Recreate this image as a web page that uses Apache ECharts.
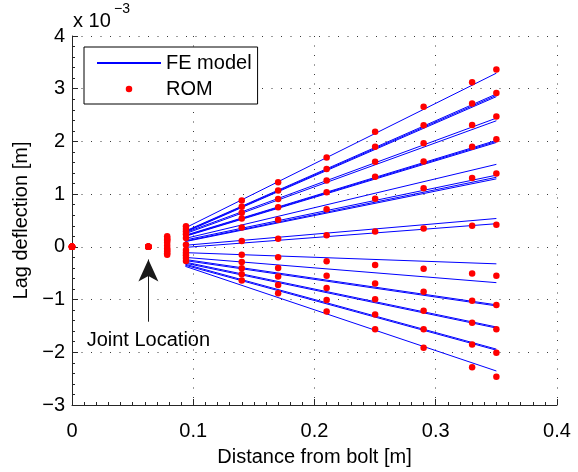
<!DOCTYPE html>
<html>
<head>
<meta charset="utf-8">
<script src="https://cdn.jsdelivr.net/npm/echarts@6/dist/echarts.min.js"></script>
<style>
  html, body { margin: 0; padding: 0; background: #fff; }
  #chart { width: 578px; height: 472px; }
</style>
</head>
<body>
<div id="chart"></div>
<script>
// Lag deflection along the lag (values in units of 1e-3 m)
const FONT = '"Liberation Sans", Arial, Helvetica, sans-serif';

// Reduced-order model: stations along the lag [m]
const romX = [0, 0.063, 0.0785, 0.094, 0.14, 0.17, 0.21, 0.25, 0.29, 0.33, 0.35];
const rom1  = [0, 0, 0.20, 0.39, 0.879, 1.227, 1.696, 2.182, 2.659, 3.122, 3.363];
const rom2  = [0, 0, 0.17, 0.34, 0.760, 1.070, 1.478, 1.898, 2.306, 2.720, 2.918];
const rom3  = [0, 0, 0.14, 0.29, 0.649, 0.908, 1.261, 1.613, 1.965, 2.312, 2.473];
const rom4  = [0, 0, 0.12, 0.24, 0.538, 0.749, 1.038, 1.329, 1.620, 1.898, 2.039];
const rom5  = [0, 0, 0.08, 0.17, 0.365, 0.514, 0.712, 0.912, 1.112, 1.305, 1.390];
const rom6  = [0, 0, 0.02, 0.04, 0.111, 0.156, 0.222, 0.291, 0.347, 0.402, 0.421];
const rom7  = [0, 0, -0.03, -0.06, -0.148, -0.197, -0.271, -0.345, -0.413, -0.506, -0.549];
const rom8  = [0, 0, -0.06, -0.11, -0.289, -0.400, -0.549, -0.697, -0.853, -1.020, -1.105];
const rom9  = [0, 0, -0.09, -0.16, -0.408, -0.562, -0.779, -0.992, -1.211, -1.439, -1.563];
const rom10 = [0, 0, -0.12, -0.21, -0.519, -0.723, -1.007, -1.281, -1.563, -1.854, -2.008];
const rom11 = [0, 0, -0.15, -0.27, -0.636, -0.882, -1.224, -1.563, -1.915, -2.286, -2.466];
const romCases = [rom1, rom2, rom3, rom4, rom5, rom6, rom7, rom8, rom9, rom10, rom11];

// FE model: each case is a straight segment between two stations
const feX = [0.0935, 0.35];
const feStart = [0.36, 0.30, 0.29, 0.28, 0.27, 0.25, 0.22, 0.21, 0.20, 0.16, 0.13, 0.11, 0.10,
                 0.03, -0.01, -0.11, -0.20, -0.24, -0.26, -0.29, -0.31, -0.33, -0.35, -0.37];
const feEnd = [3.295, 2.90, 2.874, 2.85, 2.442, 2.392, 2.02, 2.00, 1.98, 1.565, 1.36, 1.32, 1.29,
               0.538, 0.439, -0.322, -0.679, -1.10, -1.12, -1.52, -1.54, -1.94, -1.96, -2.355];

// Joint location callout
const jointX = 0.063;
const arrowTail = -1.42;
const arrowHead = -0.24;

// Axis tick values
const xTicks = { min: 0, max: 0.4, step: 0.1 };
const yTicks = { min: -3, max: 4, step: 1 };

const AXIS_COLOR = '#262626';
const GRID_DOT = { color: '#3a3a3a', width: 1, type: [1, 8.5] };

const chart = echarts.init(document.getElementById('chart'), null, { renderer: 'canvas' });

const series = [];
feStart.forEach((y0, i) => {
  series.push({
    type: 'line',
    name: 'FE model',
    data: [[feX[0], y0], [feX[1], feEnd[i]]],
    symbol: 'none',
    showSymbol: false,
    lineStyle: { color: '#0000ff', width: 1 },
    itemStyle: { color: '#0000ff' },
    silent: true,
    z: 3
  });
});
romCases.forEach(vals => {
  series.push({
    type: 'scatter',
    name: 'ROM',
    data: romX.map((x, k) => [x, vals[k]]),
    symbol: 'circle',
    symbolSize: 6.5,
    itemStyle: { color: '#ff0000', opacity: 1 },
    clip: false,
    silent: true,
    z: 4
  });
});
series.push({
  type: 'line',
  name: 'callout',
  data: [],
  silent: true,
  markLine: {
    silent: true,
    animation: false,
    symbol: ['none', 'arrow'],
    symbolSize: [15, 22],
    lineStyle: { color: '#1a1a1a', width: 1, type: 'solid' },
    label: {
      show: true,
      position: 'start',
      formatter: 'Joint Location',
      fontFamily: FONT,
      fontSize: 20,
      color: '#000',
      distance: 9
    },
    data: [[{ coord: [jointX, arrowTail] }, { coord: [jointX, arrowHead] }]]
  }
});

const fmtX = v => (v === 0 ? '0' : v.toFixed(1));
const fmtY = v => (v < 0 ? '\u2212' + Math.abs(v) : String(v));

chart.setOption({
  animation: false,
  backgroundColor: '#fff',
  textStyle: { fontFamily: FONT },
  grid: { left: 72, right: 21, top: 36, bottom: 59, containLabel: false },
  legend: {
    data: [
      { name: 'FE model', itemStyle: { opacity: 0 } },
      { name: 'ROM' }
    ],
    orient: 'vertical',
    left: 84,
    top: 47,
    itemWidth: 64,
    itemHeight: 6.5,
    itemGap: 6,
    padding: [6, 6, 5, 12],
    borderColor: '#000',
    borderWidth: 1,
    backgroundColor: '#fff',
    selectedMode: false,
    textStyle: { fontFamily: FONT, fontSize: 20, color: '#000' }
  },
  xAxis: {
    type: 'value',
    min: xTicks.min,
    max: xTicks.max,
    interval: xTicks.step,
    name: 'Distance from bolt [m]',
    nameLocation: 'middle',
    nameGap: 42,
    nameTextStyle: { fontFamily: FONT, fontSize: 20, color: '#000' },
    axisLine: { show: true, onZero: false, lineStyle: { color: AXIS_COLOR, width: 1 } },
    axisTick: { show: true, inside: true, length: 6, lineStyle: { color: AXIS_COLOR } },
    minorTick: { show: true, splitNumber: 10, length: 3, lineStyle: { color: AXIS_COLOR } },
    splitLine: { show: true, lineStyle: GRID_DOT },
    axisLabel: { formatter: fmtX, fontFamily: FONT, fontSize: 20, color: '#000', margin: 16 }
  },
  yAxis: {
    type: 'value',
    min: yTicks.min,
    max: yTicks.max,
    interval: yTicks.step,
    name: 'Lag deflection [m]',
    nameLocation: 'middle',
    nameRotate: 90,
    nameGap: 31,
    nameTextStyle: { fontFamily: FONT, fontSize: 20, color: '#000' },
    axisLine: { show: true, onZero: false, lineStyle: { color: AXIS_COLOR, width: 1 } },
    axisTick: { show: true, inside: true, length: 6, lineStyle: { color: AXIS_COLOR } },
    minorTick: { show: true, splitNumber: 5, length: 3, lineStyle: { color: AXIS_COLOR } },
    splitLine: { show: true, lineStyle: GRID_DOT },
    axisLabel: { formatter: fmtY, fontFamily: FONT, fontSize: 20, color: '#000', margin: 7 }
  },
  graphic: [
    { type: 'text', x: 73, y: 21, style: { text: 'x 10', font: '20px ' + FONT, fill: '#000', verticalAlign: 'middle' } },
    { type: 'text', x: 114, y: 9, style: { text: '\u22123', font: '14px ' + FONT, fill: '#000', verticalAlign: 'middle' } }
  ],
  series: series
});
</script>
</body>
</html>
